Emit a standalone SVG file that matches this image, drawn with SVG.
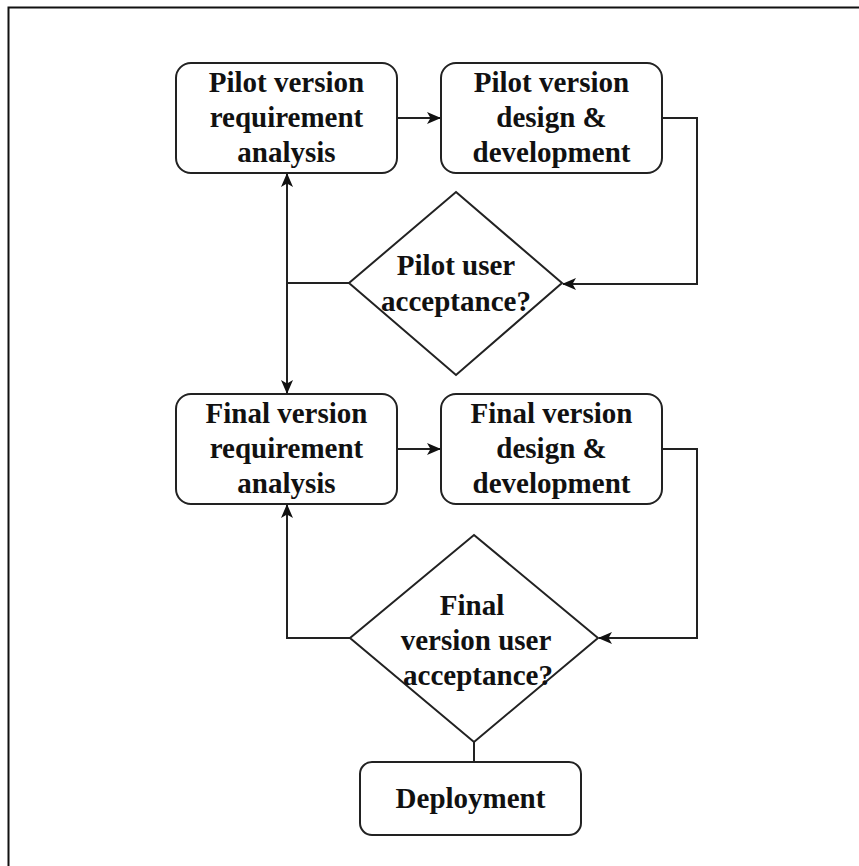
<svg xmlns="http://www.w3.org/2000/svg" width="859" height="866" viewBox="0 0 859 866">
<defs>
<style>
.n{fill:#fff;stroke:#222;stroke-width:2}
.c{fill:none;stroke:#222;stroke-width:2}
.t{font-family:"Liberation Serif",serif;font-weight:bold;font-size:29px;fill:#111;text-anchor:middle}
</style>
<marker id="ar" viewBox="0 0 14 12" refX="13" refY="6" markerWidth="14" markerHeight="12" markerUnits="userSpaceOnUse" orient="auto">
<path d="M0,0 L14,6 L0,12 L3.5,6 Z" fill="#111"/>
</marker>
</defs>
<rect width="859" height="866" fill="#fff"/>
<rect x="8.5" y="7.5" width="900" height="900" fill="none" stroke="#111" stroke-width="2"/>
<g id="connectors">
<path class="c" d="M397,118 L440,118" marker-end="url(#ar)"/>
<path class="c" d="M662,118 L697,118 L697,284 L563,284" marker-end="url(#ar)"/>
<path class="c" d="M349,283 L287,283"/>
<path class="c" d="M287,283 L287,174" marker-end="url(#ar)"/>
<path class="c" d="M287,283 L287,393" marker-end="url(#ar)"/>
<path class="c" d="M397,449 L440,449" marker-end="url(#ar)"/>
<path class="c" d="M662,449 L697,449 L697,638 L599,638" marker-end="url(#ar)"/>
<path class="c" d="M350,638 L287,638 L287,505" marker-end="url(#ar)"/>
<path class="c" d="M474,742 L474,762"/>
</g>
<g id="pilot-req">
<rect class="n" x="176" y="63" width="221" height="110" rx="15"/>
<text class="t" x="286.5" y="92">Pilot version</text>
<text class="t" x="286.5" y="127">requirement</text>
<text class="t" x="286.5" y="162">analysis</text>
</g>
<g id="pilot-design">
<rect class="n" x="441" y="63" width="221" height="110" rx="15"/>
<text class="t" x="551.5" y="92">Pilot version</text>
<text class="t" x="551.5" y="127">design &amp;</text>
<text class="t" x="551.5" y="162">development</text>
</g>
<g id="pilot-accept">
<path class="n" d="M456,192 L562,283 L456,375 L349,283 Z"/>
<text class="t" x="456" y="275">Pilot user</text>
<text class="t" x="456" y="311">acceptance?</text>
</g>
<g id="final-req">
<rect class="n" x="176" y="394" width="221" height="110" rx="15"/>
<text class="t" x="286.5" y="423">Final version</text>
<text class="t" x="286.5" y="458">requirement</text>
<text class="t" x="286.5" y="493">analysis</text>
</g>
<g id="final-design">
<rect class="n" x="441" y="394" width="221" height="110" rx="15"/>
<text class="t" x="551.5" y="423">Final version</text>
<text class="t" x="551.5" y="458">design &amp;</text>
<text class="t" x="551.5" y="493">development</text>
</g>
<g id="final-accept">
<path class="n" d="M474,535 L598,638 L474,742 L350,638 Z"/>
<text class="t" x="472" y="615">Final</text>
<text class="t" x="476" y="650">version user</text>
<text class="t" x="478" y="685">acceptance?</text>
</g>
<g id="deployment">
<rect class="n" x="360" y="762" width="221" height="73" rx="12"/>
<text class="t" x="470.5" y="808">Deployment</text>
</g>
</svg>
